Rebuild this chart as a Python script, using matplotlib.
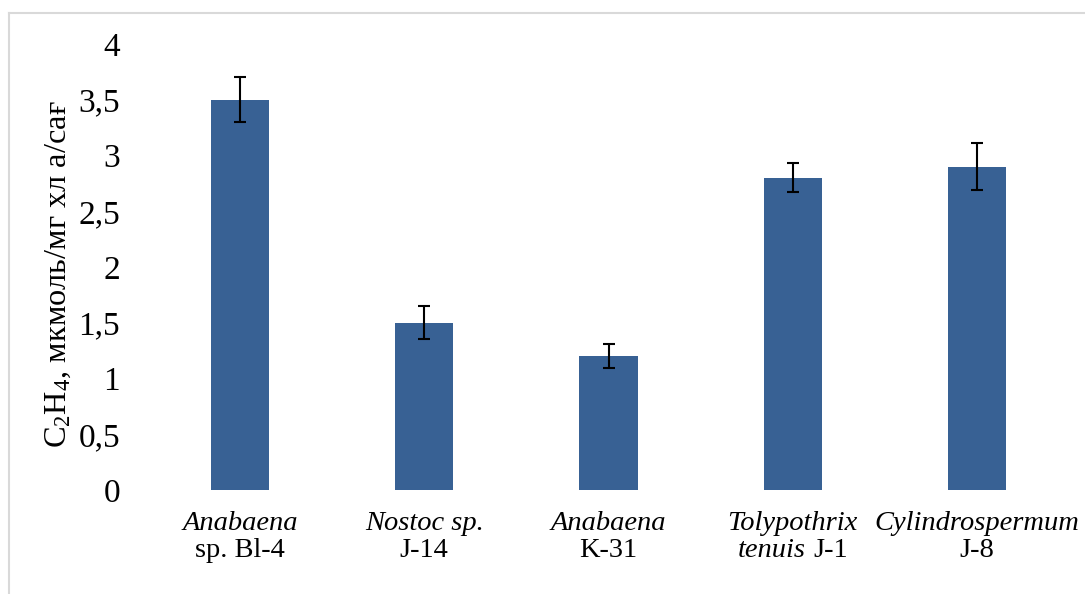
import matplotlib
matplotlib.use("Agg")
import matplotlib.pyplot as plt
from matplotlib.lines import Line2D

plt.rcParams['font.family'] = ['Liberation Serif', 'DejaVu Serif']
plt.rcParams['mathtext.fontset'] = 'custom'
plt.rcParams['mathtext.rm'] = 'Liberation Serif'
plt.rcParams['mathtext.it'] = 'Liberation Serif:italic'

# Strain labels: each line is a list of (text, italic) pieces
strain_labels = [
    [[('Anabaena', True)], [('sp. Bl-4', False)]],
    [[('Nostoc sp.', True)], [('J-14', False)]],
    [[('Anabaena', True)], [('K-31', False)]],
    [[('Tolypothrix', True)], [('tenuis', True), ('J-1', False)]],
    [[('Cylindrospermum', True)], [('J-8', False)]],
]
values = [3.5, 1.5, 1.2, 2.8, 2.9]
errors = [0.20, 0.15, 0.11, 0.13, 0.21]
y_ticks = [0, 0.5, 1, 1.5, 2, 2.5, 3, 3.5, 4]
y_tick_labels = ['0', '0,5', '1', '1,5', '2', '2,5', '3', '3,5', '4']

W, H = 1085, 594
fig = plt.figure(figsize=(W / 100, H / 100), dpi=100)
ax = fig.add_axes([148 / W, (H - 490) / H, (1069 - 148) / W, (490 - 44) / H])

x = list(range(len(values)))
ax.bar(x, values, width=0.315, color='#386194', zorder=2)
ax.errorbar(x, values, yerr=errors, fmt='none', ecolor='black',
            elinewidth=1.5, capsize=4.3, capthick=1.5, zorder=3)

ax.set_xlim(-0.5, len(values) - 0.5)
ax.set_ylim(0, 4)
ax.set_yticks(y_ticks)
ax.set_yticklabels(y_tick_labels)
ax.set_xticks(x)
ax.set_xticklabels([])
ax.tick_params(axis='y', length=0, pad=20, labelsize=24)
ax.tick_params(axis='x', length=0)
for s in ax.spines.values():
    s.set_visible(False)

ax.set_ylabel('C$_2$H$_4$, мкмоль/мг хл а/сағ', fontsize=23.3,
              ha='center', va='center')
ax.yaxis.set_label_coords(-0.0977, 0.484)

# Category labels with mixed italic/regular pieces, centred under each bar
renderer = fig.canvas.get_renderer()
label_size = 20.5
gap = 0.25 * label_size * 100 / 72
baselines = [H - 530, H - 557]
for xi, lines in zip(x, strain_labels):
    cx = ax.transData.transform((xi, 0))[0]
    for line, by in zip(lines, baselines):
        pieces = []
        for txt, italic in line:
            t = fig.text(0, 0, txt, fontsize=label_size,
                         fontstyle='italic' if italic else 'normal',
                         ha='left', va='baseline', transform=None)
            w = t.get_window_extent(renderer).width
            pieces.append((t, w))
        total = sum(w for _, w in pieces) + gap * (len(pieces) - 1)
        xpos = cx - total / 2
        for t, w in pieces:
            t.set_position((xpos, by))
            xpos += w + gap

# Chart-area border
fig.add_artist(Line2D([9 / W, 1.0], [1 - 13 / H, 1 - 13 / H],
                      transform=fig.transFigure, color='#d9d9d9', lw=1.5))
fig.add_artist(Line2D([9 / W, 9 / W], [0, 1 - 13 / H],
                      transform=fig.transFigure, color='#d9d9d9', lw=1.5))

fig.savefig('out.png', dpi=100)
